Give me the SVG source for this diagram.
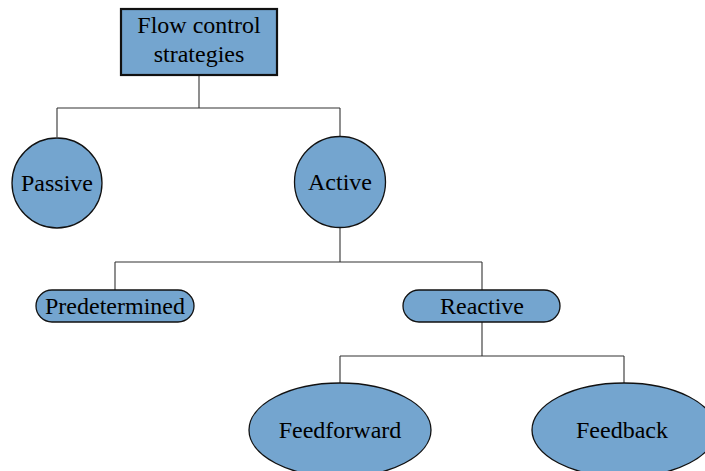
<svg xmlns="http://www.w3.org/2000/svg" width="705" height="471" viewBox="0 0 705 471">
<style>
.n{fill:#74a5cf;stroke:#111;stroke-width:1.3}
.t{font-family:"Liberation Serif","Times New Roman",serif;font-size:24px;fill:#000;text-anchor:middle}
.c{fill:none;stroke:#333;stroke-width:1.1}
</style>
<rect width="705" height="471" fill="#fff"/>
<g id="connectors">
<path class="c" d="M199 75V108M57 108H340M57 108V137M340 108V137"/>
<path class="c" d="M340 228V262M115 262H482M115 262V290M482 262V290"/>
<path class="c" d="M482 322V356M340 356H624M340 356V383M624 356V383"/>
</g>
<g id="root">
<rect x="121" y="9" width="156" height="66" fill="#74a5cf" stroke="#111" stroke-width="2.2"/>
<text class="t" x="199" y="33">Flow control</text>
<text class="t" x="199" y="62">strategies</text>
</g>
<g id="passive">
<circle class="n" cx="57" cy="183" r="45"/>
<text class="t" x="57" y="191">Passive</text>
</g>
<g id="active">
<circle class="n" cx="340" cy="182" r="45.5"/>
<text class="t" x="340" y="190">Active</text>
</g>
<g id="predetermined">
<rect class="n" x="36" y="290" width="158" height="32" rx="16"/>
<text class="t" x="115" y="314">Predetermined</text>
</g>
<g id="reactive">
<rect class="n" x="403" y="290" width="157" height="32" rx="16"/>
<text class="t" x="482" y="314">Reactive</text>
</g>
<g id="feedforward">
<ellipse class="n" cx="340" cy="430" rx="91" ry="47"/>
<text class="t" x="340" y="438">Feedforward</text>
</g>
<g id="feedback">
<ellipse class="n" cx="624" cy="430" rx="92" ry="47"/>
<text class="t" x="622" y="438">Feedback</text>
</g>
</svg>
